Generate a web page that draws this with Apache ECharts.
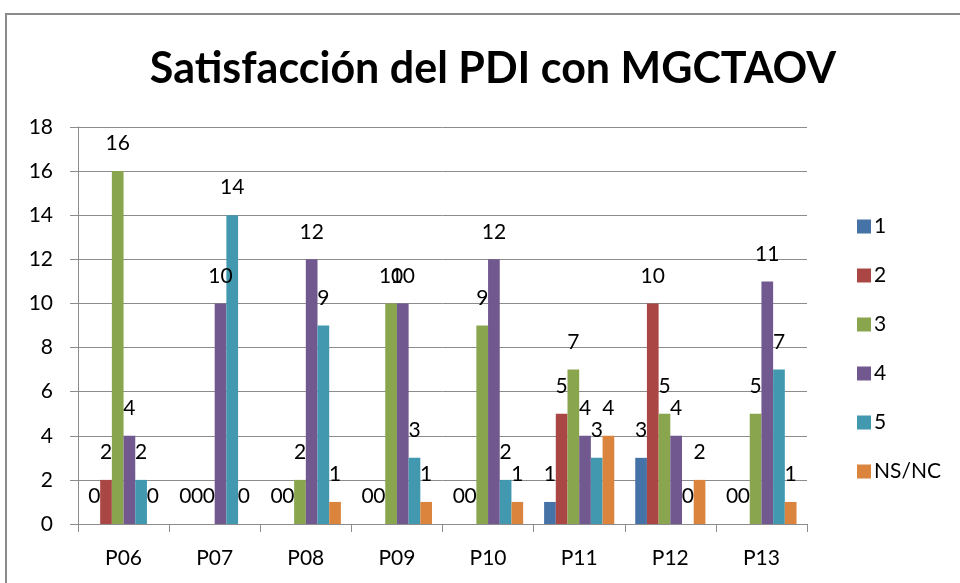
<!DOCTYPE html>
<html>
<head>
<meta charset="utf-8">
<script src="https://cdn.jsdelivr.net/npm/echarts@6/dist/echarts.min.js"></script>
<style>
  html, body { margin: 0; padding: 0; background: #fff; overflow: hidden; }
  #frame { position: absolute; left: 5px; top: 13px; width: 1000px; height: 600px;
           border-left: 2px solid #8a8a8a; border-top: 2px solid #8a8a8a; }
  #chart { position: absolute; left: 0; top: 0; width: 960px; height: 583px; }
</style>
</head>
<body>
<div id="frame"></div>
<div id="chart"></div>
<script>
// Question categories
const categories = ['P06', 'P07', 'P08', 'P09', 'P10', 'P11', 'P12', 'P13'];

// Responses per satisfaction level
const serie1 = [0, 0, 0, 0, 0, 1, 3, 0];
const serie2 = [2, 0, 0, 0, 0, 5, 10, 0];
const serie3 = [16, 0, 2, 10, 9, 7, 5, 5];
const serie4 = [4, 10, 12, 10, 12, 4, 4, 11];
const serie5 = [2, 14, 9, 3, 2, 3, 0, 7];
const serieNSNC = [0, 0, 1, 1, 1, 4, 2, 1];

const seriesNames = ['1', '2', '3', '4', '5', 'NS/NC'];
const seriesData = [serie1, serie2, serie3, serie4, serie5, serieNSNC];
const colors = ['#4572A7', '#AA4643', '#89A54E', '#71588F', '#4198AF', '#DB843D'];

const yTicks = { min: 0, max: 18, interval: 2 };

const FONT = 'Lato';

const chart = echarts.init(document.getElementById('chart'), null, { renderer: 'canvas' });

chart.setOption({
  animation: false,
  color: colors,
  title: {
    text: 'Satisfacción del PDI con MGCTAOV',
    left: 488,
    textAlign: 'center',
    top: 43,
    textStyle: { fontFamily: FONT, fontWeight: 'bold', fontSize: 43, color: '#000' }
  },
  legend: {
    orient: 'vertical',
    left: 852,
    top: 211,
    itemWidth: 14,
    itemHeight: 14,
    itemGap: 28,
    icon: 'rect',
    textStyle: { fontFamily: FONT, fontSize: 21, color: '#000', padding: [0, 0, 0, -2] },
    data: seriesNames
  },
  grid: { left: 78, right: 153, top: 127, bottom: 59, containLabel: false },
  xAxis: {
    type: 'category',
    data: categories,
    axisLine: { lineStyle: { color: '#8c8c8c', width: 1 } },
    axisTick: { show: true, length: 8, lineStyle: { color: '#8c8c8c' } },
    axisLabel: { fontFamily: FONT, fontSize: 21, color: '#000', margin: 24 }
  },
  yAxis: {
    type: 'value',
    min: yTicks.min,
    max: yTicks.max,
    interval: yTicks.interval,
    axisLine: { show: true, lineStyle: { color: '#8c8c8c', width: 1 } },
    axisTick: { show: true, length: 8, lineStyle: { color: '#8c8c8c' } },
    splitLine: { lineStyle: { color: '#8c8c8c', width: 1 } },
    axisLabel: { fontFamily: FONT, fontSize: 21, color: '#000', margin: 25 }
  },
  series: seriesNames.map((name, i) => ({
    name: name,
    type: 'bar',
    data: seriesData[i],
    barGap: '0%',
    barCategoryGap: '23%',
    label: {
      show: true,
      position: 'top',
      distance: 17,
      fontFamily: FONT,
      fontSize: 21,
      color: '#000'
    }
  }))
});
</script>
</body>
</html>
